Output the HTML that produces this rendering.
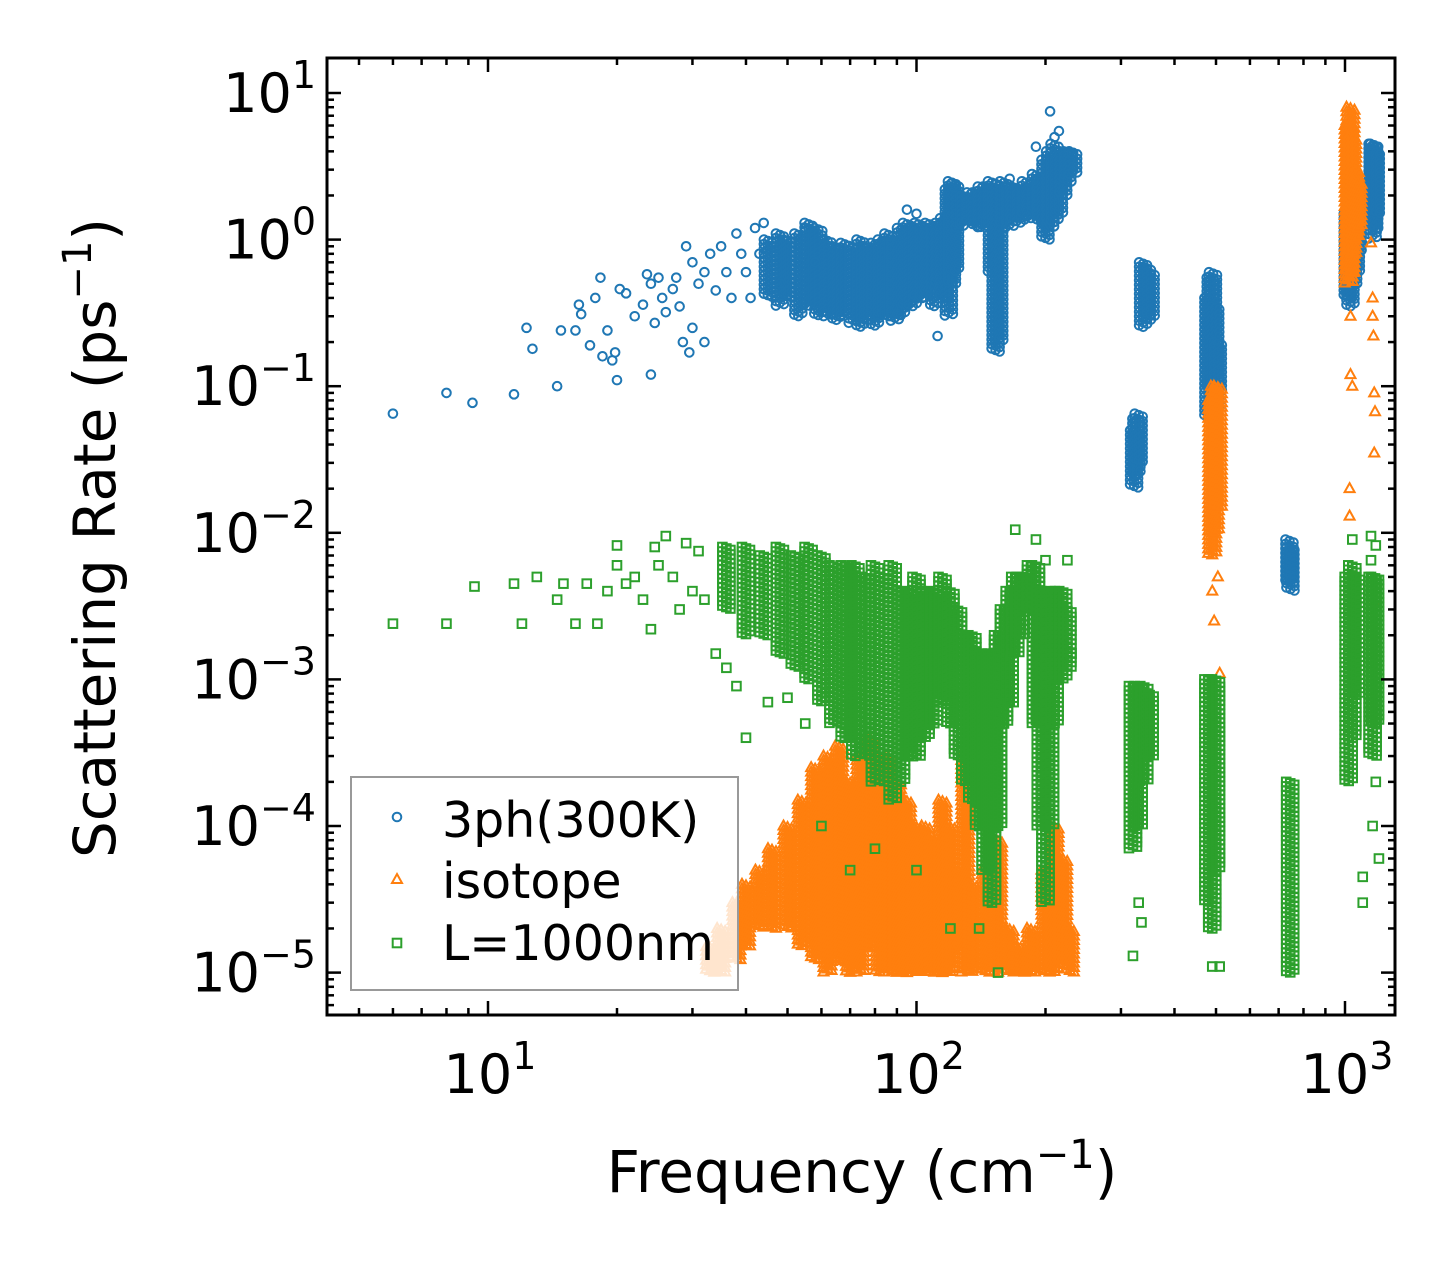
<!DOCTYPE html>
<html><head><meta charset="utf-8"><style>
html,body{margin:0;padding:0;background:#fff}
svg text{font-family:"DejaVu Sans","Liberation Sans",sans-serif;fill:#000}
</style></head><body>
<svg id="chart" width="1455" height="1265" xmlns="http://www.w3.org/2000/svg">
<g id="marks"></g>
<g id="axes"></g>
<text x="862" y="1192" text-anchor="middle" font-size="58">Frequency (cm<tspan dy="-24" font-size="40">−1</tspan><tspan dy="24">)</tspan></text>
<text x="0" y="0" text-anchor="middle" font-size="58" transform="translate(115,538) rotate(-90)">Scattering Rate (ps<tspan dy="-24" font-size="40">−1</tspan><tspan dy="24">)</tspan></text>
<g>
<rect x="351" y="777" width="387" height="213" fill="#fff" fill-opacity="0.8" stroke="#999" stroke-width="2"/>
<circle cx="397" cy="817" r="4.3" fill="none" stroke="#1f77b4" stroke-width="2"/>
<polygon points="397,874 402,883 392,883" fill="none" stroke="#ff7f0e" stroke-width="2"/>
<rect x="392.7" y="938.7" width="8.6" height="8.6" fill="none" stroke="#2ca02c" stroke-width="2"/>
<text x="442" y="837" font-size="49">3ph(300K)</text>
<text x="442" y="898" font-size="49">isotope</text>
<text x="442" y="960" font-size="49">L=1000nm</text>
</g>
</svg>
<script>
// ---- data: sparse points [freq, rate] and dense strips [freq, lo, hi] ----
const blueStrips = [[45,0.4,1.0],[48,0.35,1.1],[50,0.4,1.0],[53,0.3,1.1],[56,0.35,1.3],[59,0.3,1.2],[62,0.3,1.0],[65,0.28,0.9],[68,0.3,0.95],[71,0.27,0.9],[74,0.25,1.0],[77,0.28,0.9],[80,0.26,0.95],[83,0.3,1.0],[86,0.3,1.1],[89,0.28,1.0],[92,0.3,1.2],[95,0.35,1.3],[98,0.35,1.2],[101,0.4,1.3],[104,0.4,1.2],[107,0.45,1.3],[110,0.35,1.2],[113,0.5,1.3],[116,0.4,1.4],[119,0.3,2.2],[121,0.5,2.5],[123,0.6,2.4],[126,1.2,2.0],[130,1.3,2.0],[134,1.3,2.1],[138,1.2,2.1],[142,1.2,2.3],[146,1.4,2.3],[150,0.6,2.5],[153,0.17,2.0],[156,0.2,2.4],[160,1.3,2.5],[165,1.2,2.3],[170,1.4,2.3],[175,1.3,2.2],[180,1.5,2.5],[185,1.4,2.2],[190,1.5,2.8],[195,1.3,2.6],[200,1.0,3.5],[205,1.2,4],[210,1.3,4.5],[215,1.5,3.5],[220,2,4],[225,2.5,4],[232,2.8,4],
[322,0.02,0.05],[326,0.025,0.06],[330,0.03,0.065],[338,0.25,0.7],[345,0.28,0.65],[352,0.3,0.6],[480,0.06,0.4],[486,0.1,0.55],[492,0.12,0.6],[498,0.07,0.35],[505,0.09,0.2],[742,0.0045,0.009],[746,0.004,0.008],[1015,0.4,1.5],[1030,0.35,3],[1045,0.5,2.5],[1060,0.6,2],[1070,0.8,1.8],[1160,1,4.5],[1170,1.2,4.5],[1180,1.5,4]];
const bluePoints = [[6,0.065],[8,0.09],[9.2,0.077],[11.5,0.088],[12.3,0.25],[12.7,0.18],[14.5,0.1],[14.8,0.24],[16,0.24],[16.3,0.36],[16.5,0.31],[17.3,0.19],[17.8,0.4],[18.3,0.55],[18.5,0.16],[19,0.24],[19.5,0.15],[19.8,0.17],[20,0.11],[20.3,0.46],[21,0.43],[22,0.3],[23,0.36],[23.5,0.58],[24,0.12],[24,0.5],[24.5,0.27],[25,0.55],[25.5,0.4],[26,0.32],[27,0.46],[27.5,0.55],[28,0.35],[28.5,0.2],[29,0.9],[29.5,0.17],[30,0.7],[30,0.25],[31,0.5],[32,0.2],[32,0.6],[33,0.8],[34,0.45],[35,0.9],[36,0.6],[37,0.4],[38,1.1],[39,0.8],[40,0.6],[41,0.4],[42,1.2],[43,0.8],[44,1.3],[46,0.9],[48,0.5],[55,1.2],[58,0.7],[95,1.6],[100,1.5],[112,0.22],[205,7.5],[210,5],[190,4.3],[215,5.5],[230,3.9],[165,2.6]];
const orangeStrips = [[33,1e-5,1.5e-5],[35,1e-5,2e-5],[38,1.2e-5,3e-5],[40,1.5e-5,4e-5],[43,2e-5,5e-5],[46,2e-5,7e-5],[50,2e-5,1e-4],[54,1.5e-5,1.5e-4],[58,1.2e-5,2.5e-4],[62,1e-5,3e-4],[66,1.2e-5,3.5e-4],[70,1e-5,2e-4],[74,1e-5,3e-4],[78,1.5e-5,4e-4],[82,1e-5,2.5e-4],[86,1e-5,3e-4],[90,1e-5,2e-4],[95,1e-5,1.5e-4],[100,1e-5,1e-4],[105,1e-5,1e-4],[110,1e-5,8e-5],[115,1e-5,1.5e-4],[120,1e-5,1e-4],[125,1.5e-5,5e-5],[130,1e-5,3e-4],[135,1e-5,4e-5],[145,1e-5,5e-5],[155,1e-5,8e-5],[165,1e-5,2e-5],[175,1e-5,1.5e-5],[185,1e-5,2e-5],[200,1e-5,5e-5],[210,1e-5,1e-4],[220,1.2e-5,6e-5],[228,1e-5,2e-5],
[490,0.007,0.08],[497,0.01,0.1],[505,0.015,0.1],[1020,0.5,6],[1030,0.6,8],[1040,0.8,5],[1055,1,3],[1070,1.2,2.5]];
const orangePoints = [[1030,0.3],[1030,0.12],[1040,0.1],[1160,0.3],[1165,0.22],[1170,0.09],[1175,0.067],[1170,0.035],[1025,0.02],[1025,0.013],[495,0.0025],[505,0.005],[510,0.0011],[490,0.004],[1170,0.0034],[1150,0.95],[1160,0.4]];
const greenStrips = [[36,0.003,0.008],[40,0.002,0.008],[44,0.002,0.007],[48,0.0015,0.008],[52,0.0012,0.007],[56,0.001,0.008],[60,0.0007,0.007],[64,0.0005,0.006],[68,0.0004,0.006],[72,0.0003,0.006],[76,0.0003,0.005],[80,0.0002,0.006],[84,0.0002,0.005],[88,0.00015,0.006],[92,0.0002,0.004],[96,0.0003,0.004],[100,0.0003,0.005],[105,0.0004,0.004],[110,0.0005,0.004],[115,0.0007,0.005],[120,0.0005,0.004],[125,0.0003,0.003],[130,0.0002,0.002],[135,0.00015,0.002],[140,0.0001,0.0015],[145,0.00005,0.0015],[150,0.00003,0.0015],[155,0.0001,0.002],[160,0.0005,0.003],[165,0.0007,0.004],[170,0.0015,0.005],[175,0.002,0.005],[180,0.003,0.005],[185,0.003,0.006],[190,0.0005,0.006],[195,0.0001,0.004],[200,0.00003,0.004],[205,0.0001,0.003],[210,0.0005,0.004],[215,0.001,0.004],[220,0.001,0.004],[225,0.0012,0.003],
[320,0.00007,0.0009],[330,0.0001,0.0009],[340,0.0002,0.0009],[350,0.0003,0.0008],[480,0.00003,0.001],[490,0.00002,0.001],[500,0.00005,0.001],[745,0.00001,0.0002],[1020,0.0002,0.005],[1040,0.0004,0.006],[1060,0.0008,0.005],[1160,0.0003,0.005],[1175,0.0005,0.005]];
const greenPoints = [[6,0.0024],[8,0.0024],[9.3,0.0043],[11.5,0.0045],[12,0.0024],[13,0.005],[14.5,0.0035],[15,0.0045],[16,0.0024],[17,0.0045],[18,0.0024],[19,0.004],[20,0.006],[20,0.0082],[21,0.0045],[22,0.005],[23,0.0035],[24,0.0022],[24.5,0.008],[25,0.006],[26,0.0095],[27,0.005],[28,0.003],[29,0.0085],[30,0.004],[31,0.0075],[32,0.0035],[34,0.0015],[36,0.0012],[38,0.0009],[40,0.0004],[45,0.0007],[50,0.00075],[55,0.0005],[60,0.0001],[70,0.00005],[80,0.00007],[100,0.00005],[120,0.00002],[140,0.00002],[155,0.00001],[170,0.0105],[190,0.009],[200,0.0065],[225,0.0065],[230,0.0015],[320,0.000013],[335,0.000022],[330,0.00003],[490,0.000011],[510,0.000011],[1100,0.00003],[1100,0.000045],[1200,0.00006],[1160,0.0001],[1180,0.0002],[1040,0.009],[1150,0.0095],[1180,0.0082],[1150,0.0065]];
const xTickExps = [1,2,3];
const yTickExps = [1,0,-1,-2,-3,-4,-5];

// ---- axes ----
const L=327,R=1395,T=58,B=1015;
const X0=488, XD=428.5, Y0=93, YD=146.6;
function xs(f){return X0+(Math.log10(f)-1)*XD;}
function ys(v){return Y0+(1-Math.log10(v))*YD;}
const NS="http://www.w3.org/2000/svg";
const svg=document.getElementById('chart');
const marks=document.getElementById('marks'), axes=document.getElementById('axes');
function mk(tag,attrs,parent){const e=document.createElementNS(NS,tag);for(const k in attrs)e.setAttribute(k,attrs[k]);parent.appendChild(e);return e;}
const colors={blue:'#1f77b4',orange:'#ff7f0e',green:'#2ca02c'};
function marker(kind,x,y,g){
  if(kind==='blue') return mk('circle',{cx:x,cy:y,r:4.3},g);
  if(kind==='orange') return mk('polygon',{points:`${x},${y-5.5} ${x+5},${y+3.5} ${x-5},${y+3.5}`},g);
  return mk('rect',{x:x-4.3,y:y-4.3,width:8.6,height:8.6},g);
}
function drawSeries(kind,strips,points){
  const g=mk('g',{fill:'none',stroke:colors[kind],'stroke-width':2},marks);
  
  
  strips.forEach(s=>{
    const xc=xs(s[0]),y1=ys(s[2]),y2=ys(s[1]);
    [-4,0,4].forEach((dx,k)=>{
      for(let y=y1+k*1.5;y<=y2+0.1;y+=4.5){
        const m=marker(kind,xc+dx,y,g);
        
        
      }
    });
  });
  points.forEach(p=>{
    const m=marker(kind,xs(p[0]),ys(p[1]),g);
    
    
  });
}
const clip=mk('clipPath',{id:'pc'},svg);
mk('rect',{x:L,y:T,width:R-L,height:B-T},clip);
marks.setAttribute('clip-path','url(#pc)');
drawSeries('blue',blueStrips,bluePoints);
drawSeries('orange',orangeStrips,orangePoints);
drawSeries('green',greenStrips,greenPoints);

// ticks
const tg=mk('g',{stroke:'#000','stroke-width':2.5},axes);
function tickX(x,len){mk('line',{x1:x,y1:B,x2:x,y2:B-len},tg);mk('line',{x1:x,y1:T,x2:x,y2:T+len},tg);}
function tickY(y,len){mk('line',{x1:L,y1:y,x2:L+len,y2:y},tg);mk('line',{x1:R,y1:y,x2:R-len,y2:y},tg);}
for(let e=0;e<=3;e++)for(let m=1;m<10;m++){const x=xs(m*Math.pow(10,e));if(x>L+1&&x<R-1)tickX(x,m===1?14:7);}
for(let e=-6;e<=1;e++)for(let m=1;m<10;m++){const y=ys(m*Math.pow(10,e));if(y>T+1&&y<B-1)tickY(y,m===1?14:7);}
const fr=mk('rect',{x:L,y:T,width:R-L,height:B-T,fill:'none',stroke:'#000','stroke-width':3},axes);


xTickExps.forEach(e=>{
  const t=mk('text',{x:xs(Math.pow(10,e))+2,y:1093,'text-anchor':'middle','font-size':54},axes);
  
  
  t.innerHTML='10<tspan dy="-24" font-size="38">'+e+'</tspan>';
});
yTickExps.forEach(e=>{
  const t=mk('text',{x:316,y:ys(Math.pow(10,e))+19,'text-anchor':'end','font-size':54},axes);
  
  
  t.innerHTML='10<tspan dy="-24" font-size="38">'+(e<0?'\u2212'+(-e):e)+'</tspan>';
});
</script>
</body></html>
